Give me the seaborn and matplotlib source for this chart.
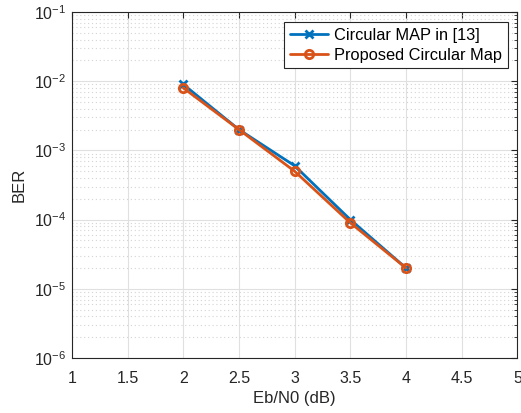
import numpy as np
import pandas as pd
import matplotlib
matplotlib.use("Agg")
import matplotlib.pyplot as plt
import seaborn as sns
from matplotlib.ticker import LogLocator, NullFormatter, FixedLocator

ebn0_db = [2.0, 2.5, 3.0, 3.5, 4.0]
ber_map13 = [9e-3, 2e-3, 6e-4, 1e-4, 2e-5]
ber_proposed = [8e-3, 2e-3, 5e-4, 9e-5, 2e-5]
series_names = ["Circular MAP in [13]", "Proposed Circular Map"]
x_ticks = [1, 1.5, 2, 2.5, 3, 3.5, 4, 4.5, 5]
x_tick_labels = ["1", "1.5", "2", "2.5", "3", "3.5", "4", "4.5", "5"]

sns.set_style("white")
plt.rcParams["font.family"] = ["Liberation Sans", "DejaVu Sans"]
plt.rcParams["mathtext.fontset"] = "custom"
plt.rcParams["mathtext.rm"] = "Liberation Sans"

fig = plt.figure(figsize=(5.21, 4.13), dpi=100)
ax = fig.add_axes([0.138, 0.133, 0.855, 0.838])

series = [
    (series_names[0], ber_map13, "#0072BD", "x"),
    (series_names[1], ber_proposed, "#D95319", "o"),
]
for name, vals, color, marker in series:
    d = pd.DataFrame({"Eb/N0": ebn0_db, "BER": vals})
    sns.lineplot(data=d, x="Eb/N0", y="BER", color=color, linewidth=2.0,
                 marker=marker, markersize=6, markeredgewidth=2.0,
                 markerfacecolor="none", markeredgecolor=color, label=name, ax=ax)

ax.set_yscale("log")
ax.set_xlim(1, 5)
ax.set_ylim(1e-6, 1e-1)
ax.xaxis.set_major_locator(FixedLocator(x_ticks))
ax.set_xticklabels(x_tick_labels)
ax.yaxis.set_major_locator(LogLocator(base=10, numticks=10))
ax.yaxis.set_minor_locator(LogLocator(base=10, subs=np.arange(2, 10), numticks=20))
ax.yaxis.set_minor_formatter(NullFormatter())

ax.grid(True, which="major", color="#e0e0e0", linewidth=0.8, linestyle="-")
ax.grid(True, which="minor", axis="y", color="#d4d4d4", linewidth=0.8, linestyle=(0, (1, 2.5)))
ax.set_axisbelow(True)

for s in ax.spines.values():
    s.set_color("#262626")
    s.set_linewidth(0.8)
ax.tick_params(which="both", direction="in", top=True, right=True, colors="#262626",
               labelsize=11.5, labelcolor="#262626")
ax.tick_params(which="major", length=4)
ax.tick_params(which="minor", length=2)
ax.tick_params(axis="x", pad=9)
ax.tick_params(axis="y", pad=4)

ax.set_xlabel("Eb/N0 (dB)", fontsize=12, color="#262626", labelpad=4)
ax.set_ylabel("BER", fontsize=12, color="#262626", labelpad=5)

leg = ax.legend(loc="upper right", fontsize=11.8, frameon=True, fancybox=False,
                edgecolor="#262626", framealpha=1, handlelength=2.3,
                borderpad=0.35, labelspacing=0.3, handletextpad=0.4,
                borderaxespad=0.0, bbox_to_anchor=(0.979, 0.971))
leg.get_frame().set_linewidth(0.8)
for t in leg.get_texts():
    t.set_color("#000000")

fig.savefig("out.png", dpi=100)
